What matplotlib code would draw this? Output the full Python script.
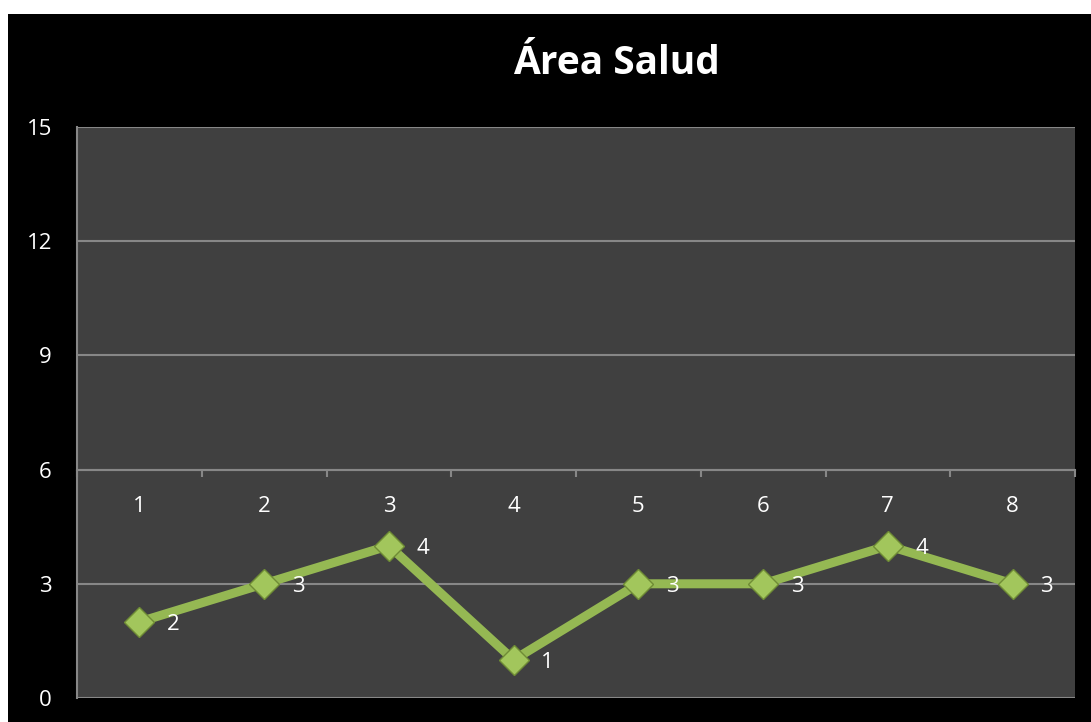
import matplotlib
matplotlib.use('Agg')
import matplotlib.pyplot as plt
from matplotlib.patches import Rectangle
from matplotlib.ticker import FixedLocator

# datos
categorias = ['1', '2', '3', '4', '5', '6', '7', '8']
valores = [2, 3, 4, 1, 3, 3, 4, 3]
y_ticks = [0, 3, 6, 9, 12, 15]
titulo = "Área Salud"

plt.rcParams['font.family'] = ['Open Sans', 'DejaVu Sans']

fig = plt.figure(figsize=(10.91, 7.22), dpi=100)
fig.patch.set_facecolor('black')
# borde blanco arriba e izquierda
fig.patches.append(Rectangle((0, 1 - 14 / 722), 1, 14 / 722,
                             transform=fig.transFigure, facecolor='white',
                             edgecolor='none', zorder=-1))
fig.patches.append(Rectangle((0, 0), 8 / 1091, 1,
                             transform=fig.transFigure, facecolor='white',
                             edgecolor='none', zorder=-1))

ax = fig.add_axes([77 / 1091, 24 / 722, 998 / 1091, 571 / 722])
ax.set_facecolor('#404040')

x = [i + 0.5 for i in range(len(categorias))]
ax.plot(x, valores, color='#95b853', linewidth=6.5, solid_joinstyle='miter',
        marker='D', markersize=15, markerfacecolor='#a2c65c',
        markeredgecolor='#6f8c35', markeredgewidth=1, zorder=3)

for xi, v in zip(x, valores):
    ax.annotate(str(v), (xi, v), xytext=(20, -2), textcoords='offset points',
                color='white', fontsize=16, va='center', ha='left', zorder=4)

ax.set_xlim(0, len(categorias))
ax.set_ylim(0, 15)

# eje y
ax.set_yticks(y_ticks)
ax.tick_params(axis='y', length=0, pad=18, labelsize=16, labelcolor='white')
ax.yaxis.grid(True, color='#878787', linewidth=1.5)
ax.set_axisbelow(True)

# eje x cruza en y = 6
ax.spines['bottom'].set_position(('data', 6))
ax.spines['bottom'].set_color('#878787')
ax.spines['bottom'].set_linewidth(1.5)
ax.spines['left'].set_color('#878787')
ax.spines['left'].set_linewidth(1.5)
ax.spines['top'].set_visible(False)
ax.spines['right'].set_visible(False)

ax.xaxis.set_major_locator(FixedLocator(range(len(categorias) + 1)))
ax.set_xticklabels([])
ax.xaxis.set_minor_locator(FixedLocator(x))
ax.set_xticklabels(categorias, minor=True)
ax.tick_params(axis='x', which='major', length=5, width=1.5, color='#878787',
               direction='out')
ax.tick_params(axis='x', which='minor', length=0, pad=19, labelsize=16,
               labelcolor='white')

fig.text(616 / 1091, 1 - 64 / 722, titulo, color='white', fontsize=28,
         fontweight='bold', ha='center', va='center')

fig.savefig('out.png', dpi=100, facecolor=fig.get_facecolor())
plt.close()
